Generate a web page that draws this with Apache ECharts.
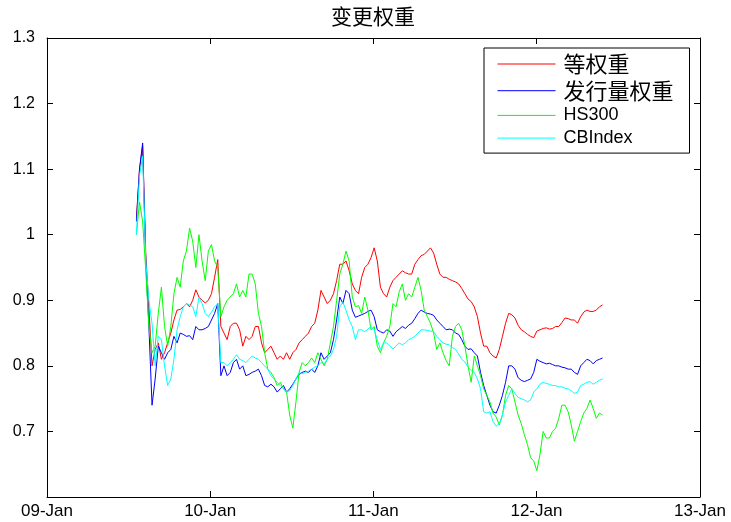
<!DOCTYPE html>
<html>
<head>
<meta charset="utf-8">
<script src="https://cdn.jsdelivr.net/npm/echarts@6/dist/echarts.min.js"></script>
<style>
html, body { margin: 0; padding: 0; background: #fff; }
#main { width: 731px; height: 522px; }
</style>
</head>
<body>
<div id="main"></div>
<script>
// 周数据，第一周 2009-07-20，每 7 天一个点
var firstWeek = Date.UTC(2009, 6, 20);
var names = ['等权重', '发行量权重', 'HS300', 'CBIndex'];
var colors = ['#ff0000', '#0000ff', '#00ff00', '#00ffff'];
var yearTicks = [Date.UTC(2009, 0, 1), Date.UTC(2010, 0, 1), Date.UTC(2011, 0, 1), Date.UTC(2012, 0, 1), Date.UTC(2013, 0, 1)];

var eqWeight = [
    1.025, 1.10, 1.135, 0.97, 0.89, 0.80, 0.825, 0.835, 0.81, 0.82,
    0.835, 0.85, 0.87, 0.885, 0.886, 0.89, 0.895, 0.89, 0.90, 0.916,
    0.905, 0.90, 0.896, 0.90, 0.91, 0.935, 0.962, 0.86, 0.85, 0.84,
    0.86, 0.865, 0.865, 0.855, 0.83, 0.845, 0.84, 0.845, 0.86, 0.86,
    0.835, 0.82, 0.825, 0.83, 0.82, 0.81, 0.815, 0.81, 0.82, 0.81,
    0.82, 0.825, 0.835, 0.84, 0.845, 0.85, 0.86, 0.865, 0.885, 0.915,
    0.905, 0.895, 0.90, 0.91, 0.93, 0.955, 0.955, 0.96, 0.945, 0.925,
    0.915, 0.91, 0.935, 0.95, 0.955, 0.965, 0.98, 0.96, 0.92, 0.91,
    0.905, 0.92, 0.93, 0.935, 0.94, 0.945, 0.942, 0.94, 0.94, 0.955,
    0.962, 0.968, 0.97, 0.975, 0.98, 0.972, 0.955, 0.94, 0.935, 0.935,
    0.932, 0.93, 0.928, 0.925, 0.918, 0.91, 0.902, 0.898, 0.89, 0.875,
    0.85, 0.83, 0.83, 0.82, 0.815, 0.812, 0.825, 0.845, 0.865, 0.88,
    0.878, 0.873, 0.862, 0.855, 0.852, 0.848, 0.845, 0.843, 0.853, 0.855,
    0.857, 0.858, 0.856, 0.857, 0.86, 0.86, 0.866, 0.873, 0.872, 0.87,
    0.87, 0.865, 0.875, 0.882, 0.885, 0.883, 0.883, 0.885, 0.89, 0.893
];
var issueWeight = [
    1.02, 1.10, 1.14, 0.96, 0.86, 0.74, 0.78, 0.83, 0.82, 0.81,
    0.82, 0.825, 0.845, 0.835, 0.85, 0.848, 0.845, 0.846, 0.84, 0.86,
    0.855, 0.855, 0.857, 0.86, 0.87, 0.88, 0.895, 0.785, 0.80, 0.785,
    0.79, 0.805, 0.81, 0.795, 0.80, 0.785, 0.787, 0.79, 0.792, 0.795,
    0.785, 0.77, 0.768, 0.772, 0.768, 0.76, 0.765, 0.77, 0.76, 0.765,
    0.772, 0.78, 0.787, 0.79, 0.792, 0.79, 0.795, 0.79, 0.80, 0.82,
    0.81, 0.815, 0.82, 0.84, 0.87, 0.905, 0.895, 0.915, 0.91, 0.885,
    0.874, 0.876, 0.878, 0.88, 0.883, 0.885, 0.875, 0.855, 0.852, 0.85,
    0.855, 0.853, 0.845, 0.852, 0.856, 0.86, 0.857, 0.862, 0.865, 0.872,
    0.88, 0.885, 0.882, 0.88, 0.879, 0.877, 0.87, 0.865, 0.86, 0.855,
    0.856, 0.855, 0.85, 0.848, 0.84, 0.83, 0.825, 0.826, 0.82, 0.815,
    0.79, 0.77, 0.755, 0.74, 0.73, 0.728, 0.74, 0.755, 0.775, 0.80,
    0.80, 0.795, 0.782, 0.778, 0.776, 0.778, 0.78, 0.79, 0.81, 0.807,
    0.805, 0.803, 0.804, 0.802, 0.80, 0.80, 0.798, 0.797, 0.795, 0.795,
    0.79, 0.787, 0.80, 0.805, 0.81, 0.808, 0.803, 0.808, 0.81, 0.812
];
var hs300 = [
    1.0, 1.05, 1.02, 0.945, 0.86, 0.82, 0.83, 0.88, 0.92, 0.86,
    0.83, 0.86, 0.91, 0.935, 0.92, 0.96, 0.975, 1.01, 0.99, 0.95,
    1.0, 0.96, 0.93, 0.975, 0.985, 0.96, 0.95, 0.875, 0.89, 0.90,
    0.905, 0.91, 0.925, 0.905, 0.915, 0.905, 0.94, 0.94, 0.925, 0.88,
    0.86, 0.82, 0.795, 0.79, 0.782, 0.77, 0.775, 0.765, 0.76, 0.725,
    0.705, 0.745, 0.79, 0.805, 0.80, 0.805, 0.812, 0.805, 0.82, 0.81,
    0.80, 0.81, 0.835, 0.86, 0.90, 0.94, 0.955, 0.975, 0.96, 0.905,
    0.89, 0.892, 0.88, 0.905, 0.885, 0.855, 0.86, 0.83, 0.82, 0.835,
    0.845, 0.86, 0.895, 0.89, 0.913, 0.925, 0.90, 0.91, 0.905, 0.92,
    0.935, 0.915, 0.885, 0.875, 0.865, 0.85, 0.825, 0.835, 0.82, 0.808,
    0.80, 0.845, 0.86, 0.865, 0.855, 0.83, 0.80, 0.775, 0.815, 0.80,
    0.785, 0.765, 0.755, 0.745, 0.728, 0.722, 0.71, 0.725, 0.755, 0.77,
    0.765, 0.745, 0.725, 0.712, 0.695, 0.68, 0.66, 0.655, 0.64, 0.665,
    0.70, 0.69, 0.69, 0.70, 0.705, 0.72, 0.74, 0.74, 0.73, 0.71,
    0.685, 0.70, 0.715, 0.728, 0.735, 0.748, 0.735, 0.72, 0.728, 0.725
];
var cbIndex = [
    1.0, 1.09, 1.12, 0.96, 0.90, 0.865, 0.80, 0.845, 0.84, 0.80,
    0.77, 0.78, 0.81, 0.855, 0.875, 0.89, 0.895, 0.893, 0.89, 0.875,
    0.905, 0.895, 0.88, 0.875, 0.882, 0.89, 0.895, 0.805, 0.805, 0.80,
    0.805, 0.81, 0.817, 0.81, 0.808, 0.805, 0.81, 0.815, 0.812, 0.81,
    0.805, 0.80, 0.795, 0.785, 0.78, 0.775, 0.77, 0.765, 0.76, 0.762,
    0.77, 0.78, 0.79, 0.788, 0.79, 0.792, 0.795, 0.798, 0.80, 0.805,
    0.803, 0.81, 0.815, 0.825, 0.845, 0.89, 0.897, 0.885, 0.87, 0.86,
    0.84, 0.855, 0.855, 0.852, 0.856, 0.86, 0.855, 0.84, 0.825, 0.835,
    0.835, 0.83, 0.826, 0.83, 0.835, 0.832, 0.835, 0.84, 0.842, 0.845,
    0.85, 0.855, 0.855, 0.854, 0.853, 0.852, 0.845, 0.84, 0.835, 0.833,
    0.832, 0.828, 0.825, 0.818, 0.81, 0.806, 0.798, 0.793, 0.79, 0.78,
    0.765, 0.73, 0.728, 0.73, 0.715, 0.708, 0.712, 0.725, 0.745, 0.755,
    0.765, 0.758, 0.752, 0.75, 0.748, 0.745, 0.748, 0.76, 0.765, 0.772,
    0.775, 0.773, 0.772, 0.77, 0.77, 0.768, 0.768, 0.766, 0.765, 0.762,
    0.758, 0.76, 0.77, 0.772, 0.775, 0.776, 0.772, 0.775, 0.778, 0.78
];

function toPairs(arr) {
    var out = [];
    for (var i = 0; i < arr.length; i++) {
        out.push([firstWeek + i * 7 * 86400000, arr[i]]);
    }
    return out;
}

var myChart = echarts.init(document.getElementById('main'), null, { renderer: 'canvas' });
var allSeries = [eqWeight, issueWeight, hs300, cbIndex];

// x 轴用数值轴放时间戳，刻度只放在每年 1 月 1 日
var xBase = {
    type: 'value',
    min: yearTicks[0],
    max: yearTicks[yearTicks.length - 1],
    splitLine: { show: false },
    axisLine: { lineStyle: { color: '#000', width: 1 } },
    axisTick: { inside: true, length: 6, lineStyle: { color: '#000' }, customValues: yearTicks }
};
var yBase = {
    type: 'value',
    min: 0.6,
    max: 1.3,
    interval: 0.1,
    splitLine: { show: false },
    axisLine: { show: true, lineStyle: { color: '#000', width: 1 } },
    axisTick: { show: true, inside: true, length: 6, lineStyle: { color: '#000' } }
};

var option = {
    backgroundColor: '#fff',
    animation: false,
    title: {
        text: '变更权重',
        left: 373,
        textAlign: 'center',
        top: 6,
        padding: 0,
        textStyle: { fontFamily: 'Noto Sans CJK SC', fontSize: 21, fontWeight: 'normal', color: '#000' }
    },
    grid: { left: 47, right: 31, top: 38, bottom: 25, containLabel: false },
    legend: {
        orient: 'vertical',
        left: 484,
        top: 48,
        padding: [5, 16, 6, 13],
        itemWidth: 58,
        itemHeight: 14,
        itemGap: 4.7,
        itemStyle: { opacity: 0 },   // 只留线，不要圆点
        lineStyle: { width: 1 },
        borderColor: '#000',
        borderWidth: 1,
        backgroundColor: '#fff',
        data: names,
        formatter: function (name) {
            return /[\u4e00-\u9fa5]/.test(name) ? '{cn|' + name + '}' : '{en|' + name + '}';
        },
        textStyle: {
            color: '#000',
            rich: {
                cn: { fontFamily: 'Noto Sans CJK SC', fontSize: 22, lineHeight: 20, color: '#000', padding: [0, 0, 0, 3] },
                en: { fontFamily: 'Liberation Sans', fontSize: 18, lineHeight: 20, color: '#000', padding: [0, 0, 0, 3] }
            }
        }
    },
    xAxis: [
        Object.assign({}, xBase, {
            position: 'bottom',
            axisLabel: {
                customValues: yearTicks,
                color: '#000',
                fontFamily: 'Liberation Sans',
                fontSize: 17,
                margin: 6,
                formatter: function (v) {
                    return String(new Date(v).getUTCFullYear()).slice(2) + '-Jan';
                }
            }
        }),
        Object.assign({}, xBase, { position: 'top', axisLabel: { show: false } })
    ],
    yAxis: [
        Object.assign({}, yBase, {
            position: 'left',
            axisLabel: {
                color: '#000',
                fontFamily: 'Liberation Sans',
                fontSize: 16,
                margin: 12,
                showMinLabel: false,
                formatter: function (v) { return String(+v.toFixed(1)); }
            }
        }),
        Object.assign({}, yBase, { position: 'right', axisLabel: { show: false } })
    ],
    series: names.map(function (n, k) {
        return {
            name: n,
            type: 'line',
            xAxisIndex: 0,
            yAxisIndex: 0,
            symbol: 'none',
            color: colors[k],
            lineStyle: { color: colors[k], width: 1 },
            data: toPairs(allSeries[k])
        };
    })
};
myChart.setOption(option);
</script>
</body>
</html>
